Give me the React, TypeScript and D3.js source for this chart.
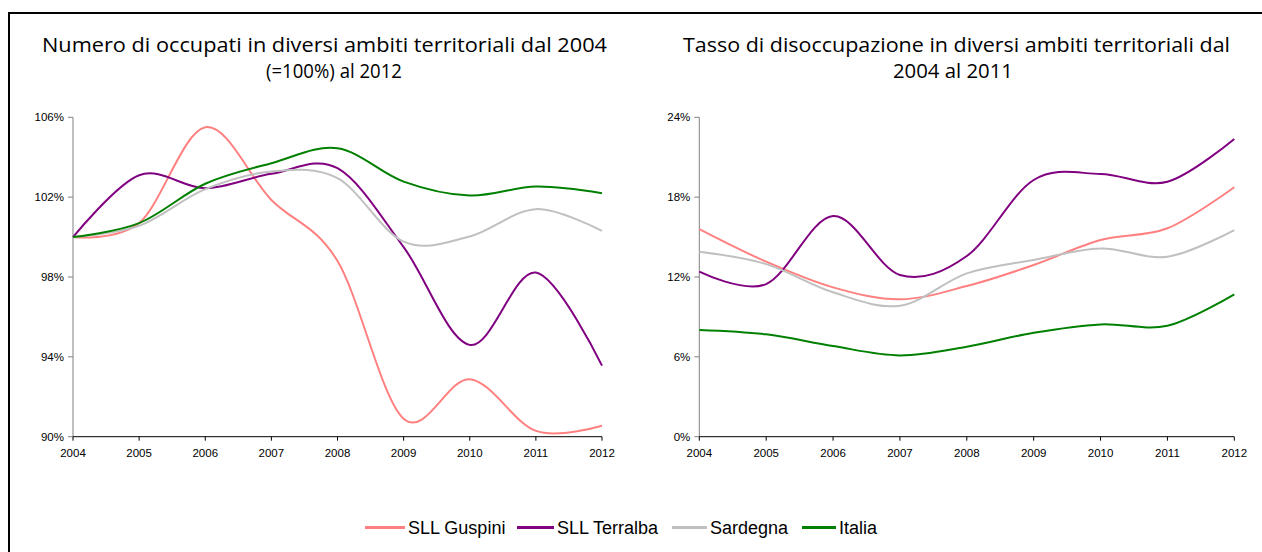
import React from "react";
import * as d3 from "d3";

const YEARS = [2004, 2005, 2006, 2007, 2008, 2009, 2010, 2011, 2012];
const SERIES_NAMES = ["SLL Guspini", "SLL Terralba", "Sardegna", "Italia"];
const SERIES_COLORS = ["#FF8080", "#800080", "#C0C0C0", "#008000"];

// Numero di occupati (2004 = 100%)
const occGuspini = [100, 100.7, 105.5, 101.86, 98.8, 90.9, 92.88, 90.29, 90.55];
const occTerralba = [100, 103.1, 102.45, 103.17, 103.45, 99.5, 94.6, 98.22, 93.56];
const occSardegna = [100, 100.56, 102.4, 103.28, 102.95, 99.77, 100.03, 101.4, 100.31];
const occItalia = [100, 100.7, 102.67, 103.7, 104.45, 102.78, 102.08, 102.53, 102.2];

// Tasso di disoccupazione
const disGuspini = [15.6, 13.15, 11.22, 10.32, 11.32, 12.9, 14.78, 15.66, 18.74];
const disTerralba = [12.4, 11.47, 16.58, 12.15, 13.58, 19.29, 19.74, 19.16, 22.37];
const disSardegna = [13.9, 12.97, 10.85, 9.84, 12.27, 13.28, 14.15, 13.52, 15.53];
const disItalia = [8.02, 7.69, 6.81, 6.11, 6.76, 7.81, 8.44, 8.34, 10.7];

const OCC_TICKS = [90, 94, 98, 102, 106];
const DIS_TICKS = [0, 6, 12, 18, 24];

const TITLE_LEFT = ["Numero di occupati in diversi ambiti territoriali dal 2004", "(=100%) al 2012"];
const TITLE_RIGHT = ["Tasso di disoccupazione in diversi ambiti territoriali dal", "2004 al 2011"];

const TITLE_FONT = "'Open Sans', 'DejaVu Sans', sans-serif";
const AXIS_FONT = "'Liberation Sans', Arial, sans-serif";

type PanelProps = {
  x0: number;
  x1: number;
  y0: number;
  y1: number;
  domain: [number, number];
  ticks: number[];
  series: number[][];
};

function Panel({ x0, x1, y0, y1, domain, ticks, series }: PanelProps) {
  const x = d3.scaleLinear().domain([YEARS[0], YEARS[YEARS.length - 1]]).range([x0, x1]);
  const y = d3.scaleLinear().domain(domain).range([y1, y0]);
  const line = d3
    .line<[number, number]>()
    .x((d) => x(d[0]))
    .y((d) => y(d[1]))
    .curve(d3.curveCardinal.tension(0));
  return (
    <g>
      <line x1={x0} x2={x0} y1={y0} y2={y1} stroke="#808080" strokeWidth={1} />
      {ticks.map((t) => (
        <g key={t}>
          <line x1={x0 - 5} x2={x0} y1={y(t)} y2={y(t)} stroke="#808080" strokeWidth={1} />
          <text
            x={x0 - 9}
            y={y(t)}
            dy="0.35em"
            textAnchor="end"
            fontFamily={AXIS_FONT}
            fontSize={11.5}
            fill="#000"
          >
            {t + "%"}
          </text>
        </g>
      ))}
      <line x1={x0} x2={x1} y1={y1} y2={y1} stroke="#000" strokeWidth={1} />
      {YEARS.map((yr) => (
        <g key={yr}>
          <line x1={x(yr)} x2={x(yr)} y1={y1} y2={y1 + 4} stroke="#000" strokeWidth={1} />
          <text
            x={x(yr)}
            y={y1 + 20}
            textAnchor="middle"
            fontFamily={AXIS_FONT}
            fontSize={11.5}
            fill="#000"
          >
            {yr}
          </text>
        </g>
      ))}
      {series.map((vals, i) => (
        <path
          key={i}
          d={line(YEARS.map((yr, j) => [yr, vals[j]] as [number, number])) || ""}
          fill="none"
          stroke={SERIES_COLORS[i]}
          strokeWidth={2}
        />
      ))}
    </g>
  );
}

export default function App() {
  const legendItems = [
    { x: 365, tx: 408 },
    { x: 517, tx: 557 },
    { x: 672, tx: 710 },
    { x: 802, tx: 839 },
  ];
  return (
    <svg
      width={1262}
      height={552}
      style={{ position: "absolute", left: 0, top: 0, background: "#fff" }}
    >
      <rect x={0} y={0} width={1262} height={552} fill="#fff" />
      <path d="M9,552 L9,13 L1262,13" fill="none" stroke="#000" strokeWidth={2} />

      <text x={324.5} y={52} textAnchor="middle" fontFamily={TITLE_FONT} fontSize={20} fill="#000"
        textLength={565} lengthAdjust="spacingAndGlyphs">
        {TITLE_LEFT[0]}
      </text>
      <text x={334} y={78} textAnchor="middle" fontFamily={TITLE_FONT} fontSize={20} fill="#000"
        textLength={136} lengthAdjust="spacingAndGlyphs">
        {TITLE_LEFT[1]}
      </text>
      <text x={956.5} y={52} textAnchor="middle" fontFamily={TITLE_FONT} fontSize={20} fill="#000"
        textLength={547} lengthAdjust="spacingAndGlyphs">
        {TITLE_RIGHT[0]}
      </text>
      <text x={953} y={78} textAnchor="middle" fontFamily={TITLE_FONT} fontSize={20} fill="#000"
        textLength={120} lengthAdjust="spacingAndGlyphs">
        {TITLE_RIGHT[1]}
      </text>

      <Panel
        x0={73}
        x1={602}
        y0={117.3}
        y1={436.7}
        domain={[90, 106]}
        ticks={OCC_TICKS}
        series={[occGuspini, occTerralba, occSardegna, occItalia]}
      />
      <Panel
        x0={699.3}
        x1={1234.3}
        y0={117.3}
        y1={436.7}
        domain={[0, 24]}
        ticks={DIS_TICKS}
        series={[disGuspini, disTerralba, disSardegna, disItalia]}
      />

      {SERIES_NAMES.map((name, i) => (
        <g key={name}>
          <line
            x1={legendItems[i].x}
            x2={legendItems[i].tx - 3}
            y1={527.5}
            y2={527.5}
            stroke={SERIES_COLORS[i]}
            strokeWidth={3}
          />
          <text x={legendItems[i].tx} y={534} fontFamily={AXIS_FONT} fontSize={18} fill="#000">
            {name}
          </text>
        </g>
      ))}
    </svg>
  );
}
